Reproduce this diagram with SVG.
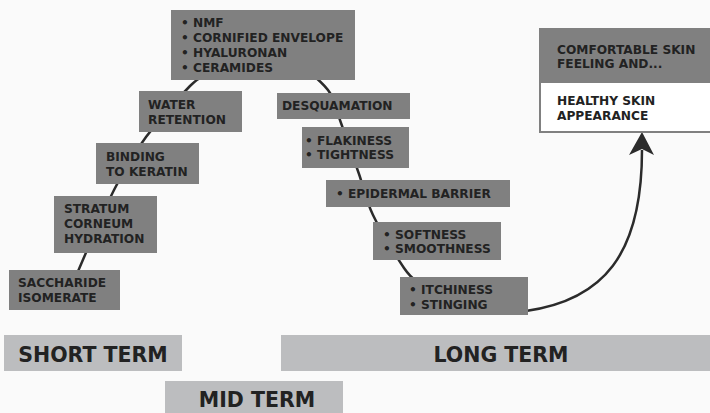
<svg xmlns="http://www.w3.org/2000/svg" width="710" height="413" viewBox="0 0 710 413">
<style>
.box{fill:#808080}
.t{font-family:"DejaVu Sans","Liberation Sans",sans-serif;font-weight:700;font-size:12.2px;fill:#222}
.term{fill:#bcbdbf}
.tt{font-family:"DejaVu Sans","Liberation Sans",sans-serif;font-weight:700;font-size:20.5px;fill:#222}
.ln{fill:none;stroke:#2b2b2b;stroke-width:2.5}
</style>
<rect width="710" height="413" fill="#fafafa"/>
<g id="connectors">
<path class="ln" d="M76,276 C82.3,261.7 102.3,213.2 114,190 C125.7,166.8 133.3,154.3 146,137 C158.7,120.3 179.7,96.5 190,86 C200.3,75.5 205,76 208,74"/>
<path class="ln" d="M312,74 C315,77.2 325.2,84.8 330,93 C334.8,101.2 336.2,109.5 341,123 C345.8,136.5 353.7,158.7 359,174 C364.3,189.3 365.5,199.3 373,215 C380.5,230.7 396.2,256.5 404,268 C411.8,279.5 417.3,281.3 420,284"/>
<path class="ln" d="M526,311 C603,300 642,255 642,150"/>
<path d="M642,132 L654,155 L642,149 L629,155 Z" fill="#2b2b2b"/>
</g>
<g id="n-top"><rect class="box" x="171" y="10" width="184" height="70"/>
<text class="t" x="181" y="27">• NMF</text><text class="t" x="181" y="42">• CORNIFIED ENVELOPE</text><text class="t" x="181" y="57">• HYALURONAN</text><text class="t" x="181" y="72">• CERAMIDES</text></g>
<g id="n-water"><rect class="box" x="139" y="91" width="103" height="41"/>
<text class="t" x="148" y="109">WATER</text><text class="t" x="148" y="124">RETENTION</text></g>
<g id="n-binding"><rect class="box" x="96" y="143" width="103" height="41"/>
<text class="t" x="106" y="161">BINDING</text><text class="t" x="106" y="176">TO KERATIN</text></g>
<g id="n-stratum"><rect class="box" x="54" y="196" width="103" height="57"/>
<text class="t" x="64" y="213">STRATUM</text><text class="t" x="64" y="228">CORNEUM</text><text class="t" x="64" y="243">HYDRATION</text></g>
<g id="n-saccharide"><rect class="box" x="9" y="270" width="111" height="40"/>
<text class="t" x="18" y="287">SACCHARIDE</text><text class="t" x="18" y="302">ISOMERATE</text></g>
<g id="n-desq"><rect class="box" x="277" y="93" width="133" height="26"/>
<text class="t" x="282" y="110">DESQUAMATION</text></g>
<g id="n-flak"><rect class="box" x="302" y="127" width="107" height="41"/>
<text class="t" x="305" y="145">• FLAKINESS</text><text class="t" x="305" y="159">• TIGHTNESS</text></g>
<g id="n-epi"><rect class="box" x="326" y="180" width="184" height="27"/>
<text class="t" x="336" y="198">• EPIDERMAL BARRIER</text></g>
<g id="n-soft"><rect class="box" x="373" y="222" width="128" height="38"/>
<text class="t" x="383" y="239">• SOFTNESS</text><text class="t" x="383" y="253">• SMOOTHNESS</text></g>
<g id="n-itch"><rect class="box" x="400" y="277" width="128" height="38"/>
<text class="t" x="409" y="294">• ITCHINESS</text><text class="t" x="409" y="309">• STINGING</text></g>
<g id="n-comfort"><rect class="box" x="539" y="28" width="173" height="54"/>
<text class="t" x="557" y="54">COMFORTABLE SKIN</text><text class="t" x="557" y="68">FEELING AND...</text></g>
<g id="n-healthy"><rect x="540" y="82" width="172" height="50" fill="#fff" stroke="#808080" stroke-width="2"/>
<text class="t" x="557" y="105">HEALTHY SKIN</text><text class="t" x="557" y="120">APPEARANCE</text></g>
<g id="n-short"><rect class="term" x="4" y="335" width="178" height="36"/>
<text class="tt" x="93" y="362" text-anchor="middle">SHORT TERM</text></g>
<g id="n-long"><rect class="term" x="281" y="335" width="431" height="36"/>
<text class="tt" x="501" y="362" text-anchor="middle">LONG TERM</text></g>
<g id="n-mid"><rect class="term" x="165" y="381" width="178" height="34"/>
<text class="tt" x="257" y="407" text-anchor="middle">MID TERM</text></g>
</svg>
